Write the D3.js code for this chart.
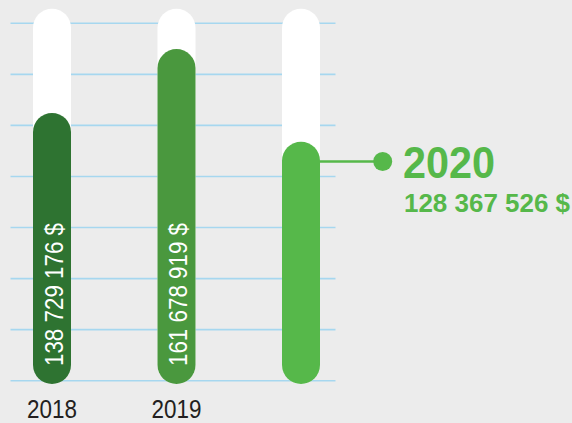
<!DOCTYPE html>
<html lang="en">
  <head>
    <meta charset="utf-8" />
    <style>
      body { margin: 0; background: #ececec; }
      svg { display: block; }
      text { font-family: "Liberation Sans Narrow", "Liberation Sans", sans-serif; }
    </style>
  </head>
  <body>
    <script src="https://d3js.org/d3.v7.min.js"></script>
    <script>
      // data
      var years = ["2018", "2019", "2020"];
      var values = [138729176, 161678919, 128367526];
      var labels = ["138 729 176 $", "161 678 919 $", "128 367 526 $"];
      var gridCount = 8;

      var width = 572,
        height = 423;
      var colors = ["#2e7331", "#4a983e", "#56b84a"];

      var svg = d3
        .select("body")
        .append("svg")
        .attr("width", width)
        .attr("height", height);

      var x = d3.scalePoint().domain(years).range([52, 301]);
      var barW = 38;
      var bottom = 384;
      // the bars are not drawn from zero in the original
      var y = d3.scaleLinear().domain([41.3e6, 176.2e6]).range([bottom, 8.7]);

      // grid lines
      var gy = d3.scaleLinear().domain([0, gridCount - 1]).range([380.7, 23.3]);
      svg
        .selectAll("line.grid")
        .data(d3.range(gridCount))
        .join("line")
        .attr("class", "grid")
        .attr("x1", 10.5)
        .attr("x2", 335.5)
        .attr("y1", function (d) { return gy(d); })
        .attr("y2", function (d) { return gy(d); })
        .attr("stroke", "#a6d7ef")
        .attr("stroke-width", 1.6);

      // white tracks
      svg
        .selectAll("rect.track")
        .data(years)
        .join("rect")
        .attr("class", "track")
        .attr("x", function (d) { return x(d) - barW / 2; })
        .attr("y", y.range()[1])
        .attr("width", barW)
        .attr("height", bottom - y.range()[1])
        .attr("rx", barW / 2)
        .attr("fill", "#ffffff");

      // value bars
      svg
        .selectAll("rect.bar")
        .data(values)
        .join("rect")
        .attr("class", "bar")
        .attr("x", function (d, i) { return x(years[i]) - barW / 2; })
        .attr("y", function (d) { return y(d); })
        .attr("width", barW)
        .attr("height", function (d) { return bottom - y(d); })
        .attr("rx", barW / 2)
        .attr("fill", function (d, i) { return colors[i]; });

      // rotated labels in first two bars
      svg
        .selectAll("text.val")
        .data(labels.slice(0, 2))
        .join("text")
        .attr("class", "val")
        .attr("transform", function (d, i) {
          return "translate(" + (x(years[i]) + 10.5) + "," + 366 + ") rotate(-90)";
        })
        .attr("fill", "#fff")
        .attr("font-size", 25)
        .attr("textLength", 143)
        .attr("lengthAdjust", "spacingAndGlyphs")
        .text(function (d) { return d; });

      // year labels under first two bars
      svg
        .selectAll("text.year")
        .data(years.slice(0, 2))
        .join("text")
        .attr("class", "year")
        .attr("x", function (d) { return x(d) - 25; })
        .attr("y", 418)
        .attr("fill", "#231f20")
        .attr("font-size", 25)
        .attr("textLength", 50)
        .attr("lengthAdjust", "spacingAndGlyphs")
        .text(function (d) { return d; });

      // callout for last year
      var last = years.length - 1;
      var cy = 161.5;
      svg
        .append("line")
        .attr("x1", x(years[last]) + barW / 2)
        .attr("x2", 382.7)
        .attr("y1", cy)
        .attr("y2", cy)
        .attr("stroke", colors[last])
        .attr("stroke-width", 2.5);
      svg
        .append("circle")
        .attr("cx", 382.7)
        .attr("cy", cy)
        .attr("r", 9.5)
        .attr("fill", colors[last]);
      svg
        .append("text")
        .attr("x", 403)
        .attr("y", 177.5)
        .attr("fill", colors[last])
        .attr("font-size", 45)
        .attr("font-weight", "bold")
        .attr("textLength", 92)
        .attr("lengthAdjust", "spacingAndGlyphs")
        .text(years[last]);
      svg
        .append("text")
        .attr("x", 404)
        .attr("y", 211.5)
        .attr("fill", colors[last])
        .attr("font-size", 25)
        .attr("font-weight", "bold")
        .attr("textLength", 166)
        .attr("lengthAdjust", "spacingAndGlyphs")
        .text(labels[last]);
    </script>
  </body>
</html>
